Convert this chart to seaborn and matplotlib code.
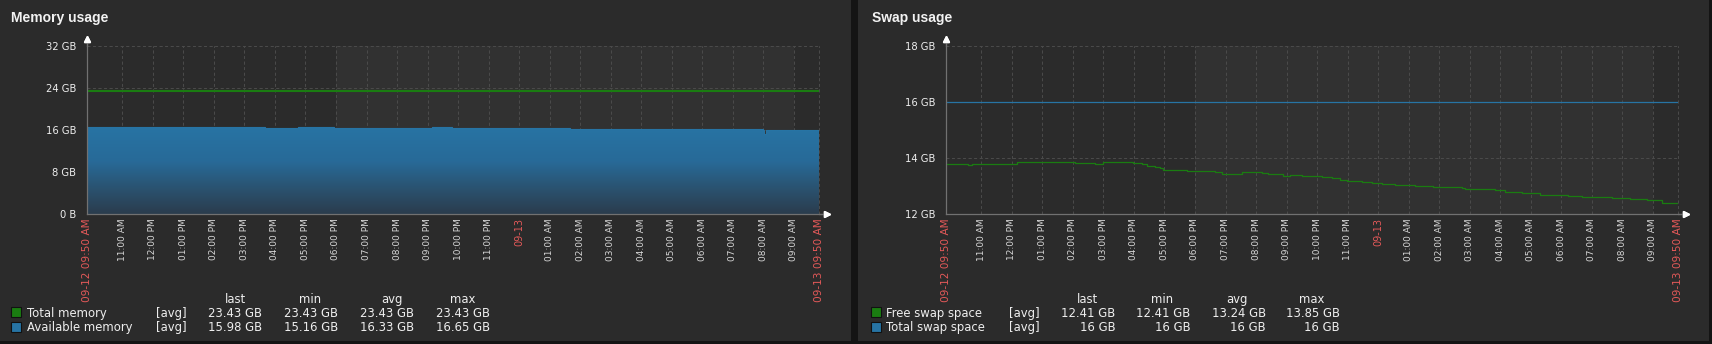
import numpy as np
import pandas as pd
import matplotlib
matplotlib.use("Agg")
import matplotlib.pyplot as plt
import matplotlib.dates as mdates
from matplotlib.colors import LinearSegmentedColormap
from matplotlib.patches import Rectangle
import seaborn as sns

# ---------------------------------------------------------------- data ----
period_start = pd.Timestamp("2024-09-12 09:50")
period_hours = 24

# Memory (GB), offsets in hours from the start of the period
mem_total_hours = [0.0, 24.0]
mem_total = [23.43, 23.43]

mem_avail_hours = [0.0, 0.5, 1.0, 1.6, 1.7, 2.6, 2.9, 3.1, 3.4, 3.7, 4.0,
                   5.08, 5.35, 5.84, 6.93, 7.5, 8.1, 9.0, 10.2, 11.3, 11.96,
                   13.0, 14.5, 15.83, 17.0, 18.5, 19.5, 20.85, 22.17, 22.2,
                   22.27, 23.0, 23.6, 24.0]
mem_avail = [16.62, 16.60, 16.62, 16.58, 16.62, 16.60, 16.64, 16.60, 16.63,
             16.60, 16.65, 16.60, 16.55, 16.45, 16.52, 16.50, 16.46, 16.47,
             16.46, 16.48, 16.33, 16.34, 16.33, 16.24, 16.22, 16.20, 16.19,
             16.14, 16.02, 15.16, 16.02, 16.00, 15.98, 15.98]

# Swap (GB)
swap_total_hours = [0.0, 24.0]
swap_total = [16.0, 16.0]

swap_free_hours = [0.0, 0.74, 0.86, 1.23, 1.45, 2.10, 2.33, 4.24, 4.89, 5.16,
                   6.15, 6.42, 6.58, 6.86, 7.02, 7.13, 7.24, 7.90, 8.82, 9.04,
                   9.70, 10.35, 10.57, 11.06, 11.28, 11.66, 12.32, 12.65,
                   12.92, 13.14, 13.63, 13.96, 14.28, 14.72, 15.37, 15.97,
                   16.90, 17.01, 18.00, 18.32, 18.87, 19.47, 20.40, 20.84,
                   21.82, 22.42, 22.96, 23.45, 24.00]
swap_free = [13.77, 13.74, 13.77, 13.80, 13.77, 13.80, 13.85, 13.82, 13.77,
             13.85, 13.82, 13.77, 13.72, 13.67, 13.63, 13.58, 13.56, 13.53,
             13.49, 13.42, 13.49, 13.46, 13.42, 13.35, 13.38, 13.35, 13.31,
             13.27, 13.21, 13.17, 13.13, 13.10, 13.06, 13.02, 12.99, 12.95,
             12.92, 12.88, 12.85, 12.78, 12.74, 12.67, 12.63, 12.60, 12.56,
             12.53, 12.49, 12.41, 12.41]

mem_yticks = [0, 8, 16, 24, 32]
mem_ylabels = ["0 B", "8 GB", "16 GB", "24 GB", "32 GB"]
swap_yticks = [12, 14, 16, 18]
swap_ylabels = ["12 GB", "14 GB", "16 GB", "18 GB"]

x_labels = ["09-12 09:50 AM", "11:00 AM", "12:00 PM", "01:00 PM", "02:00 PM",
            "03:00 PM", "04:00 PM", "05:00 PM", "06:00 PM", "07:00 PM",
            "08:00 PM", "09:00 PM", "10:00 PM", "11:00 PM", "09-13",
            "01:00 AM", "02:00 AM", "03:00 AM", "04:00 AM", "05:00 AM",
            "06:00 AM", "07:00 AM", "08:00 AM", "09:00 AM", "09-13 09:50 AM"]
x_highlight = {"09-12 09:50 AM", "09-13", "09-13 09:50 AM"}

# off-hours band (lighter background)
offhours = ("2024-09-12 18:00", "2024-09-13 09:00")

legend_cols = ["last", "min", "avg", "max"]
mem_legend = [("Total memory", "#1A7C11", ["23.43 GB", "23.43 GB", "23.43 GB", "23.43 GB"]),
              ("Available memory", "#2774A4", ["15.98 GB", "15.16 GB", "16.33 GB", "16.65 GB"])]
swap_legend = [("Free swap space", "#1A7C11", ["12.41 GB", "12.41 GB", "13.24 GB", "13.85 GB"]),
               ("Total swap space", "#2774A4", ["16 GB", "16 GB", "16 GB", "16 GB"])]

# --------------------------------------------------------------- style ----
GREEN = "#1A7C11"
BLUE = "#2774A4"
PANEL = "#2b2b2b"
SHADE = "#313131"
GRID = "#4a4a4a"
AXIS = "#717171"
TEXT = "#eeeeee"
TICK = "#d6d6d6"
RED = "#e45959"

sns.set_theme(style="dark")
plt.rcParams["font.family"] = ["DejaVu Sans"]
plt.rcParams["lines.scale_dashes"] = False

W, H = 1712, 344
fig = plt.figure(figsize=(W / 100, H / 100), dpi=100, facecolor="#141414")


def fx(x):
    return x / W


def fy(y):
    return 1 - y / H


def to_times(hours):
    return period_start + pd.to_timedelta(np.asarray(hours), unit="h")


# panel backgrounds
for x0, x1 in [(0, 850.5), (858, 1709)]:
    fig.patches.append(Rectangle((fx(x0), fy(341)), fx(x1) - fx(x0), fy(0) - fy(341),
                                 transform=fig.transFigure, facecolor=PANEL,
                                 edgecolor="none", zorder=-1))

blue_grad = LinearSegmentedColormap.from_list(
    "blue_grad", [(0.0, "#2b3c4d"), (0.3, "#2a5371"), (0.6, "#286a98"), (1.0, "#2774A4")])

t_start = mdates.date2num(period_start)
t_end = mdates.date2num(period_start + pd.Timedelta(hours=period_hours))
hour_ticks = pd.date_range("2024-09-12 11:00", "2024-09-13 09:00", freq="h")
tick_pos = [t_start] + list(mdates.date2num(hour_ticks)) + [t_end]


def setup_axes(ax, ylo, yhi, yticks, ylabels):
    ax.set_facecolor(PANEL)
    ax.axvspan(mdates.date2num(pd.Timestamp(offhours[0])),
               mdates.date2num(pd.Timestamp(offhours[1])),
               color=SHADE, lw=0, zorder=0)
    for t in tick_pos[1:-1]:
        ax.axvline(t, color=GRID, lw=0.75, ls=(0, (2, 2)), zorder=0.5)
    for y in yticks[1:-1]:
        ax.axhline(y, color=GRID, lw=0.75, ls=(0, (2, 2)), zorder=0.5)
    ax.axhline(yhi, color=GRID, lw=0.75, ls=(0, (2, 2)), zorder=0.5, clip_on=False)
    ax.axvline(t_end, color=GRID, lw=0.75, ls=(0, (2, 2)), zorder=0.5, clip_on=False)

    ax.set_xlim(t_start, t_end)
    ax.set_ylim(ylo, yhi)
    ax.set_yticks(yticks)
    ax.set_yticklabels(ylabels)
    ax.set_xticks(tick_pos)
    ax.set_xticklabels(x_labels)
    ax.tick_params(axis="y", length=0, pad=7.6, labelsize=7.2, labelcolor=TEXT)
    ax.tick_params(axis="x", length=0, pad=2.9, labelsize=6.5, labelcolor=TICK,
                   labelrotation=90)
    for lab in ax.get_xticklabels():
        if lab.get_text() in x_highlight:
            lab.set_color(RED)
            lab.set_fontsize(7.6 if lab.get_text() != "09-13" else 7.0)
    ax.grid(False)
    ax.set_xlabel("")
    ax.set_ylabel("")
    for side in ("top", "right"):
        ax.spines[side].set_visible(False)
    for side in ("left", "bottom"):
        ax.spines[side].set_visible(True)
        ax.spines[side].set_color(AXIS)
        ax.spines[side].set_linewidth(0.9)
        ax.spines[side].set_zorder(5)
    # axis arrows
    ax.plot([0, 0], [1, 1.035], color=AXIS, lw=0.9, transform=ax.transAxes, clip_on=False)
    ax.plot([1, 1.008], [0, 0], color=AXIS, lw=0.9, transform=ax.transAxes, clip_on=False)
    ax.plot(0, 1.042, marker="^", ms=4.2, color="white", mec="white",
            transform=ax.transAxes, clip_on=False)
    ax.plot(1.0105, 0, marker=">", ms=4.2, color="white", mec="white",
            transform=ax.transAxes, clip_on=False)


def draw_legend(x_sq, x_name, x_tag, x_cols_right, x_heads, rows):
    fs = 8.35
    for head, xc in zip(legend_cols, x_heads):
        fig.text(fx(xc), fy(303), head, ha="center", va="baseline",
                 fontsize=fs, color=TEXT)
    for i, (name, color, vals) in enumerate(rows):
        top = 307.3 + i * 14.4
        base = 317 + i * 14.4
        fig.patches.append(Rectangle((fx(x_sq), fy(top + 10)), fx(10), fy(0) - fy(10),
                                     transform=fig.transFigure, facecolor=color,
                                     edgecolor="#111111", lw=0.8, zorder=3))
        fig.text(fx(x_name), fy(base), name, ha="left", va="baseline",
                 fontsize=fs, color=TEXT)
        fig.text(fx(x_tag), fy(base), "[avg]", ha="right", va="baseline",
                 fontsize=fs, color=TEXT)
        for v, xr in zip(vals, x_cols_right):
            fig.text(fx(xr), fy(base), v, ha="right", va="baseline",
                     fontsize=fs, color=TEXT)


# ------------------------------------------------------- memory usage ----
ax_mem = fig.add_axes([fx(86.7), fy(214), fx(819.3) - fx(86.7), fy(46) - fy(214)])
setup_axes(ax_mem, 0, 32, mem_yticks, mem_ylabels)

avail_df = pd.DataFrame({"time": to_times(mem_avail_hours), "gb": mem_avail})
total_df = pd.DataFrame({"time": to_times(mem_total_hours), "gb": mem_total})

avail_t = mdates.date2num(avail_df["time"])
fill = ax_mem.fill_between(avail_t, avail_df["gb"], 0, step="post",
                           facecolor="none", edgecolor="none", zorder=2)
grad = ax_mem.imshow(np.linspace(0, 1, 256)[:, None], cmap=blue_grad, origin="lower",
                     aspect="auto", interpolation="bilinear", zorder=2,
                     extent=[avail_t[0], avail_t[-1], 0, max(mem_avail)])
grad.set_clip_path(fill.get_paths()[0], transform=ax_mem.transData)
sns.lineplot(data=avail_df, x="time", y="gb", ax=ax_mem, color=BLUE, lw=0.8,
             drawstyle="steps-post", estimator=None, zorder=3)
sns.lineplot(data=total_df, x="time", y="gb", ax=ax_mem, color=GREEN, lw=1.5,
             estimator=None, zorder=4)
setup_axes(ax_mem, 0, 32, mem_yticks, mem_ylabels)

fig.text(fx(11.3), fy(22), "Memory usage", ha="left", va="baseline",
         fontsize=10, fontweight="bold", family="Liberation Sans", color="#f2f2f2")
draw_legend(11.3, 26.7, 186.7, [262, 338, 414, 490], [235, 310.5, 392, 463], mem_legend)

# --------------------------------------------------------- swap usage ----
ax_swap = fig.add_axes([fx(945.7), fy(214), fx(1678.3) - fx(945.7), fy(46) - fy(214)])
setup_axes(ax_swap, 12, 18, swap_yticks, swap_ylabels)

free_df = pd.DataFrame({"time": to_times(swap_free_hours), "gb": swap_free})
stot_df = pd.DataFrame({"time": to_times(swap_total_hours), "gb": swap_total})
sns.lineplot(data=stot_df, x="time", y="gb", ax=ax_swap, color=BLUE, lw=0.9,
             estimator=None, zorder=4)
sns.lineplot(data=free_df, x="time", y="gb", ax=ax_swap, color=GREEN, lw=0.9,
             drawstyle="steps-post", estimator=None, zorder=4)
setup_axes(ax_swap, 12, 18, swap_yticks, swap_ylabels)

fig.text(fx(871.7), fy(22), "Swap usage", ha="left", va="baseline",
         fontsize=10, fontweight="bold", family="Liberation Sans", color="#f2f2f2")
draw_legend(870.7, 886, 1039.3, [1115.7, 1190.7, 1265.7, 1340],
            [1087, 1162, 1237, 1312], swap_legend)

fig.savefig("out.png", dpi=100, facecolor=fig.get_facecolor())
